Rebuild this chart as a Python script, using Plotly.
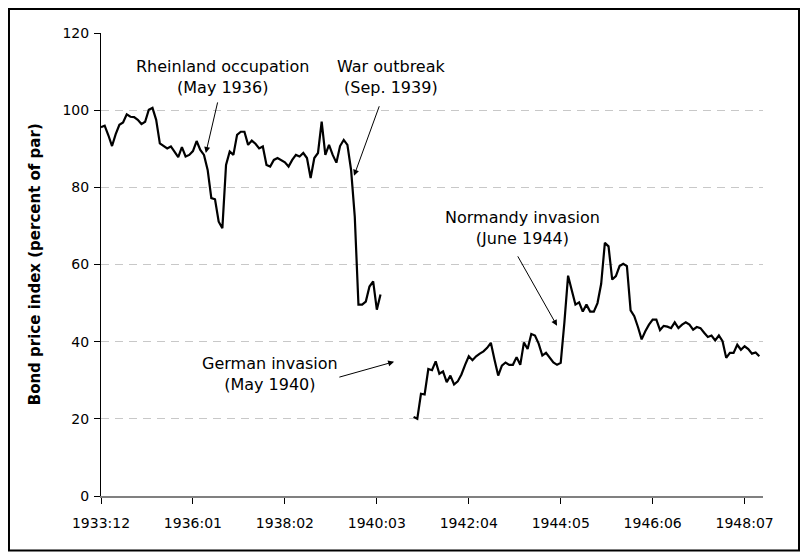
import pandas as pd
import plotly.graph_objects as go

# monthly categories 1933:12 .. 1948:12
months = [p.strftime('%Y:%m') for p in pd.period_range('1933-12', '1948-12', freq='M')]
tick_labels = months[::25]

# bond price index, 1933:12 .. 1940:04
bond_price_1 = [
    95.6, 96.0, 93.5, 90.7, 93.8, 96.2, 96.8, 98.9, 98.3, 98.2,
    97.5, 96.4, 97.0, 100.1, 100.6, 97.5, 91.4, 90.7, 90.1, 90.6,
    89.3, 87.8, 90.4, 88.0, 88.4, 89.4, 92.0, 89.7, 88.4, 84.5,
    77.2, 76.9, 71.1, 69.4, 85.8, 89.3, 88.4, 93.6, 94.4, 94.4,
    91.0, 92.1, 91.3, 90.1, 90.6, 85.8, 85.4, 87.1, 87.6, 87.1,
    86.5, 85.4, 87.1, 88.4, 88.0, 88.9, 87.6, 82.4, 87.6, 88.9,
    97.0, 88.4, 91.0, 88.4, 86.4, 90.7, 92.3, 91.0, 84.5, 72.4,
    49.6, 49.6, 50.4, 54.3, 55.6, 48.3, 52.2,
]
# no quotes 1940:05 .. 1940:12
gap_months = 8
# bond price index, 1941:01 .. 1948:11
bond_price_2 = [
    20.5, 20.0, 26.5, 26.3, 32.9, 32.6, 34.9, 31.7, 32.3, 29.5,
    31.2, 28.9, 29.7, 31.5, 34.0, 36.2, 35.2, 36.2, 36.9, 37.5,
    38.4, 39.7, 35.3, 31.2, 33.8, 34.6, 34.0, 34.0, 36.0, 34.0,
    39.8, 38.1, 42.0, 41.6, 39.5, 36.4, 37.1, 35.8, 34.6, 34.0,
    34.5, 45.0, 57.1, 53.3, 49.6, 50.2, 47.8, 49.6, 47.8, 47.8,
    50.0, 55.0, 65.6, 64.7, 56.1, 57.0, 59.6, 60.2, 59.6, 48.1,
    46.6, 43.8, 40.6, 42.7, 44.4, 45.7, 45.7, 43.0, 44.1, 43.9,
    43.5, 45.0, 43.5, 44.4, 45.0, 44.4, 43.1, 43.8, 43.5, 42.3,
    41.2, 41.6, 40.3, 41.6, 40.1, 35.8, 37.1, 37.1, 39.2, 37.9,
    38.8, 38.1, 36.9, 37.2, 36.2,
]

values = bond_price_1 + [None] * gap_months + bond_price_2
values += [None] * (len(months) - len(values))

# event labels: text, label centre (month idx, value), arrow tail, arrow head
events = [
    ("Rheinland occupation<br>(May 1936)", (32.9, 108.5), (31.8, 102.4), (28.5, 88.9)),
    ("War outbreak<br>(Sep. 1939)", (79.1, 108.5), (75.8, 101.4), (68.8, 83.0)),
    ("German invasion<br>(May 1940)", (46.0, 31.5), (64.4, 30.7), (79.7, 34.8)),
    ("Normandy invasion<br>(June 1944)", (114.7, 69.5), (113.1, 62.5), (124.0, 44.1)),
]

font = "DejaVu Sans, Verdana, sans-serif"

fig = go.Figure()
fig.add_trace(go.Scatter(
    x=months, y=values, mode='lines', connectgaps=False,
    line=dict(color='black', width=2.2), hoverinfo='skip', showlegend=False,
))

for text, (tx, ty), (ax, ay), (hx, hy) in events:
    fig.add_annotation(x=tx, y=ty, xref='x', yref='y', text=text, showarrow=False,
                       font=dict(family=font, size=16, color='black'))
    fig.add_annotation(x=hx, y=hy, ax=ax, ay=ay, xref='x', yref='y', axref='x', ayref='y',
                       text='', showarrow=True, arrowhead=2, arrowsize=1.2, arrowwidth=1,
                       arrowcolor='black', standoff=0, startstandoff=0)

# y axis title
fig.add_annotation(x=-0.1, y=0.5, xref='paper', yref='paper', textangle=-90,
                   xanchor='center', yanchor='middle',
                   text='<b>Bond price index (percent of par)</b>', showarrow=False,
                   font=dict(family=font, size=15, color='black'))

# outer frame round the whole chart
fig.add_shape(type='rect', xref='paper', yref='paper', x0=-0.139, x1=1.0544, y0=-0.1176, y1=1.0518,
              line=dict(color='black', width=2))

fig.update_xaxes(type='category', range=[0, 180], tickvals=tick_labels, ticktext=tick_labels,
                 showline=True, linecolor='#808080', linewidth=2, ticks='outside', ticklen=6,
                 tickcolor='black', showgrid=False, ticklabelstandoff=7,
                 tickfont=dict(family=font, size=14, color='black'))
fig.update_yaxes(range=[0, 120], dtick=20, showline=True, linecolor='black', linewidth=1,
                 ticks='outside', ticklen=6, tickcolor='black', zeroline=False,
                 showgrid=True, gridcolor='#c8c8c8', griddash='8px,6px', gridwidth=1,
                 ticklabelstandoff=2,
                 tickfont=dict(family=font, size=14, color='black'))

fig.update_layout(
    width=792, height=544,
    margin=dict(l=93, r=37, t=25, b=55.5),
    plot_bgcolor='white', paper_bgcolor='white',
)

fig.write_html("out.html")
